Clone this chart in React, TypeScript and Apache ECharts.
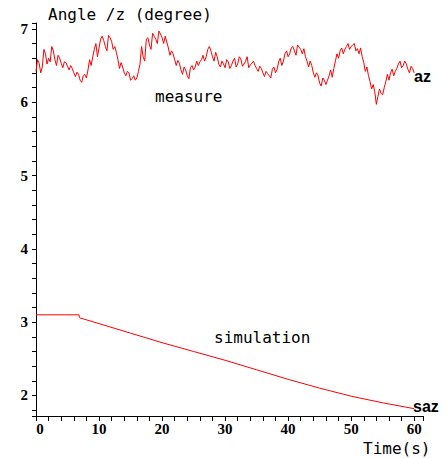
import React, { useEffect, useRef } from "react";
import * as echarts from "echarts";

// Measured yaw angle (degrees), sampled every 0.25 s from t = 0 to t = 60
const measureStep = 0.25;
const measureValues = [
  6.42, 6.58, 6.53, 6.40, 6.48, 6.72, 6.66, 6.52, 6.60, 6.55,
  6.76, 6.70, 6.58, 6.50, 6.64, 6.60, 6.53, 6.47, 6.55, 6.54,
  6.49, 6.44, 6.50, 6.46, 6.40, 6.35, 6.41, 6.38, 6.30, 6.27,
  6.36, 6.38, 6.33, 6.44, 6.58, 6.50, 6.62, 6.72, 6.80, 6.62,
  6.74, 6.86, 6.90, 6.84, 6.76, 6.70, 6.91, 6.88, 6.83, 6.72,
  6.76, 6.68, 6.58, 6.46, 6.54, 6.48, 6.40, 6.36, 6.42, 6.40,
  6.30, 6.32, 6.36, 6.30, 6.33, 6.42, 6.52, 6.76, 6.62, 6.56,
  6.86, 6.88, 6.78, 6.72, 6.94, 6.90, 6.86, 6.80, 6.97, 6.93,
  6.88, 6.80, 6.90, 6.82, 6.74, 6.64, 6.70, 6.66, 6.58, 6.50,
  6.57, 6.53, 6.44, 6.38, 6.48, 6.44, 6.36, 6.32, 6.47, 6.50,
  6.44, 6.48, 6.56, 6.50, 6.55, 6.58, 6.64, 6.56, 6.62, 6.72,
  6.76, 6.70, 6.62, 6.56, 6.68, 6.62, 6.52, 6.48, 6.56, 6.52,
  6.47, 6.58, 6.55, 6.46, 6.50, 6.56, 6.60, 6.48, 6.52, 6.62,
  6.59, 6.49, 6.52, 6.56, 6.62, 6.47, 6.51, 6.53, 6.56, 6.50,
  6.46, 6.42, 6.49, 6.46, 6.40, 6.35, 6.42, 6.39, 6.36, 6.33,
  6.45, 6.48, 6.40, 6.45, 6.55, 6.60, 6.50, 6.56, 6.66, 6.70,
  6.62, 6.66, 6.74, 6.76, 6.70, 6.64, 6.78, 6.75, 6.72, 6.66,
  6.73, 6.62, 6.56, 6.48, 6.56, 6.50, 6.40, 6.34, 6.40, 6.36,
  6.26, 6.22, 6.33, 6.30, 6.24, 6.30, 6.36, 6.44, 6.34, 6.46,
  6.56, 6.66, 6.60, 6.70, 6.74, 6.66, 6.72, 6.76, 6.80, 6.72,
  6.76, 6.78, 6.80, 6.70, 6.73, 6.66, 6.74, 6.62, 6.54, 6.42,
  6.48, 6.36, 6.28, 6.18, 6.24, 6.14, 5.97, 6.08, 6.18, 6.12,
  6.10, 6.20, 6.28, 6.38, 6.30, 6.40, 6.45, 6.36, 6.42, 6.46,
  6.52, 6.56, 6.47, 6.50, 6.56, 6.52, 6.45, 6.40, 6.49, 6.46,
  6.40,
];

// Simulated yaw angle (degrees)
const simTimes = [0, 6.8, 6.9, 10, 15, 20, 25, 30, 35, 40, 45, 50, 55, 60];
const simValues = [3.10, 3.10, 3.06, 2.98, 2.85, 2.72, 2.60, 2.48, 2.35, 2.22, 2.10, 1.99, 1.90, 1.82];

const xMin = 0;
const xMax = 61.4;
const yMin = 1.72;
const yMax = 7.08;

const titleText = "Angle /z (degree)";
const xName = "Time(s)";
const measureName = "measure";
const simName = "simulation";
const measureTag = "az";
const simTag = "saz";

export default function App() {
  const ref = useRef<HTMLDivElement>(null);
  useEffect(() => {
    if (!ref.current) return;
    const chart = echarts.init(ref.current, undefined, { renderer: "svg" });
    const measureData = measureValues.map((v, i) => [i * measureStep, v]);
    const simData = simTimes.map((t, i) => [t, simValues[i]]);
    const mono = "DejaVu Sans Mono";
    const labelFont = {
      color: "#000",
      fontFamily: "Liberation Serif",
      fontWeight: "bold" as const,
      fontSize: 15,
    };
    chart.setOption({
      animation: false,
      backgroundColor: "#ffffff",
      grid: { left: 36, right: 23, top: 23, bottom: 42, containLabel: false },
      xAxis: {
        type: "value",
        min: xMin,
        max: xMax,
        interval: 10,
        axisLine: { lineStyle: { color: "#000", width: 1 } },
        axisTick: { show: true, length: 5, lineStyle: { color: "#000" } },
        minorTick: { show: true, splitNumber: 5, length: 5, lineStyle: { color: "#000" } },
        splitLine: { show: false },
        axisLabel: {
          showMaxLabel: false,
          ...labelFont,
          margin: 5,
          lineHeight: 15,
          formatter: (v: number) => (v === 0 ? "{z|0}" : String(v)),
          rich: { z: { ...labelFont, lineHeight: 15, padding: [0, 0, 0, 8] } },
        },
      },
      yAxis: {
        type: "value",
        min: yMin,
        max: yMax,
        splitNumber: 5,
        axisLine: { show: true, lineStyle: { color: "#000", width: 1 } },
        axisTick: { show: true, length: 4, lineStyle: { color: "#000" } },
        minorTick: { show: true, splitNumber: 5, length: 4, lineStyle: { color: "#000" } },
        splitLine: { show: false },
        axisLabel: {
          showMinLabel: false,
          showMaxLabel: false,
          ...labelFont,
          margin: 8,
        },
      },
      series: [
        {
          name: measureName,
          type: "line",
          data: measureData,
          showSymbol: false,
          symbol: "none",
          lineStyle: { color: "#ff0000", width: 1 },
        },
        {
          name: simName,
          type: "line",
          data: simData,
          showSymbol: false,
          symbol: "none",
          lineStyle: { color: "#ff0000", width: 1 },
        },
      ],
      graphic: [
        { type: "text", left: 48, top: 6, style: { text: titleText, font: `16px '${mono}'`, fill: "#000" } },
        { type: "text", left: 155, top: 88, style: { text: measureName, font: `16px '${mono}'`, fill: "#000" } },
        { type: "text", left: 214, top: 329, style: { text: simName, font: `16px '${mono}'`, fill: "#000" } },
        { type: "text", left: 363, top: 440, style: { text: xName, font: `16px '${mono}'`, fill: "#000", lineHeight: 17 } },
        { type: "text", left: 414, top: 68, style: { text: measureTag, font: "bold 16px 'Liberation Sans'", fill: "#000" } },
        { type: "text", left: 413, top: 398, style: { text: simTag, font: "bold 16px 'Liberation Sans'", fill: "#000" } },
      ],
    });
    return () => chart.dispose();
  }, []);
  return (
    <div
      ref={ref}
      style={{ position: "absolute", left: 0, top: 0, width: 446, height: 458 }}
    />
  );
}
